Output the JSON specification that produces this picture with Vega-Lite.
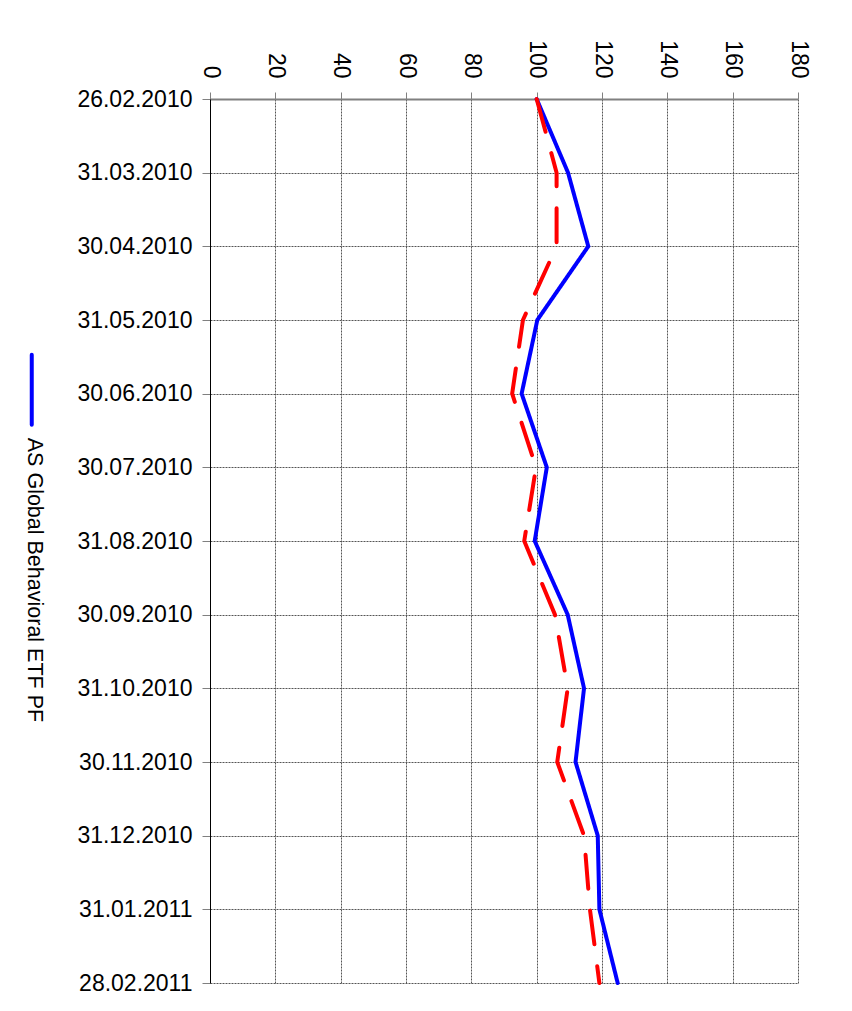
{
  "$schema": "https://vega.github.io/schema/vega-lite/v6.json",
  "autosize": {"type": "none"},
  "padding": {"left": 210, "top": 99, "right": 54, "bottom": 28},
  "width": 588,
  "height": 884,
  "background": "white",
  "config": {
    "font": "Liberation Sans",
    "view": {"stroke": null},
    "axis": {
      "labelFont": "Liberation Sans",
      "labelFontSize": 23,
      "labelColor": "black",
      "gridColor": "#555555",
      "gridDash": [2, 1],
      "gridWidth": 1,
      "gridOpacity": 1,
      "tickColor": "#808080",
      "tickWidth": 1,
      "title": null
    }
  },
  "data": {
    "values": [
      {"date": "26.02.2010", "series": "AS Global Behavioral ETF PF", "value": 100},
      {"date": "31.03.2010", "series": "AS Global Behavioral ETF PF", "value": 109.6},
      {"date": "30.04.2010", "series": "AS Global Behavioral ETF PF", "value": 115.8},
      {"date": "31.05.2010", "series": "AS Global Behavioral ETF PF", "value": 100.2},
      {"date": "30.06.2010", "series": "AS Global Behavioral ETF PF", "value": 95.4},
      {"date": "30.07.2010", "series": "AS Global Behavioral ETF PF", "value": 103.1},
      {"date": "31.08.2010", "series": "AS Global Behavioral ETF PF", "value": 99.4},
      {"date": "30.09.2010", "series": "AS Global Behavioral ETF PF", "value": 109.5},
      {"date": "31.10.2010", "series": "AS Global Behavioral ETF PF", "value": 114.5},
      {"date": "30.11.2010", "series": "AS Global Behavioral ETF PF", "value": 111.9},
      {"date": "31.12.2010", "series": "AS Global Behavioral ETF PF", "value": 118.7},
      {"date": "31.01.2011", "series": "AS Global Behavioral ETF PF", "value": 119.2},
      {"date": "28.02.2011", "series": "AS Global Behavioral ETF PF", "value": 124.8},
      {"date": "26.02.2010", "series": "Benchmark", "value": 100},
      {"date": "31.03.2010", "series": "Benchmark", "value": 106.1},
      {"date": "30.04.2010", "series": "Benchmark", "value": 106.1},
      {"date": "31.05.2010", "series": "Benchmark", "value": 95.8},
      {"date": "30.06.2010", "series": "Benchmark", "value": 92.5},
      {"date": "30.07.2010", "series": "Benchmark", "value": 99.8},
      {"date": "31.08.2010", "series": "Benchmark", "value": 96.2},
      {"date": "30.09.2010", "series": "Benchmark", "value": 105.6},
      {"date": "31.10.2010", "series": "Benchmark", "value": 109.5},
      {"date": "30.11.2010", "series": "Benchmark", "value": 106.3},
      {"date": "31.12.2010", "series": "Benchmark", "value": 114.5},
      {"date": "31.01.2011", "series": "Benchmark", "value": 116.3},
      {"date": "28.02.2011", "series": "Benchmark", "value": 119.2}
    ]
  },
  "mark": {"type": "line", "strokeWidth": 4, "strokeCap": "round", "strokeJoin": "miter"},
  "encoding": {
    "y": {
      "field": "date",
      "type": "ordinal",
      "sort": null,
      "scale": {"type": "point", "padding": 0},
      "axis": {
        "orient": "left",
        "domainColor": "black",
        "domainWidth": 1,
        "tickSize": 8,
        "labelPadding": 10,
        "grid": true
      }
    },
    "x": {
      "field": "value",
      "type": "quantitative",
      "scale": {"domain": [0, 180], "nice": false, "zero": true},
      "axis": {
        "orient": "top",
        "values": [0, 20, 40, 60, 80, 100, 120, 140, 160, 180],
        "labelAngle": 90,
        "labelPadding": 14,
        "tickSize": 7,
        "domainColor": "#808080",
        "domainWidth": 2,
        "grid": true
      }
    },
    "color": {
      "field": "series",
      "type": "nominal",
      "scale": {"domain": ["AS Global Behavioral ETF PF", "Benchmark"], "range": ["#0000FF", "#FF0000"]},
      "legend": {
        "orient": "none",
        "legendX": -189,
        "legendY": 280,
        "padding": 0,
        "title": null,
        "values": ["AS Global Behavioral ETF PF"],
        "symbolType": "M0,-5L0,5",
        "symbolSize": 196,
        "symbolStrokeWidth": 4,
        "labelFont": "Liberation Sans",
        "labelFontSize": 21.5,
        "labelColor": "black",
        "labelOffset": 0,
        "labelLimit": 0,
        "encode": {
          "labels": {"update": {"angle": {"value": 90}, "align": {"value": "left"}, "baseline": {"value": "middle"}, "dx": {"value": 48}, "dy": {"value": 9}}},
          "symbols": {"update": {"strokeCap": {"value": "round"}}}
        }
      }
    },
    "strokeDash": {
      "field": "series",
      "type": "nominal",
      "scale": {"domain": ["AS Global Behavioral ETF PF", "Benchmark"], "range": [[1, 0], [34, 22]]},
      "legend": null
    }
  }
}
